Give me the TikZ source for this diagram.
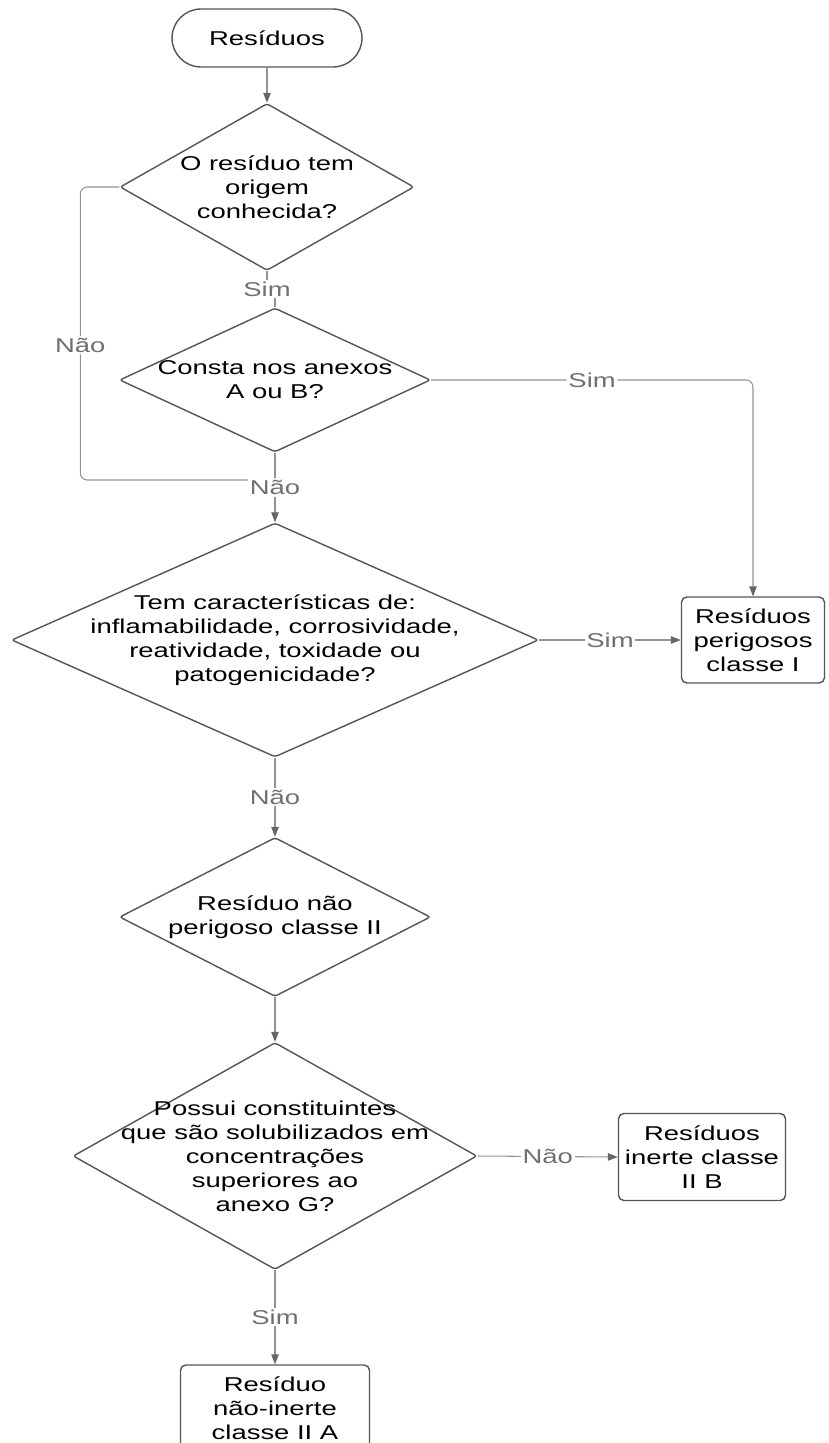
\documentclass[tikz,border=0pt]{standalone}
\usepackage{fontspec}
\setmainfont[FakeStretch=1.37]{Liberation Sans}
\usetikzlibrary{shapes.geometric,arrows.meta}
\definecolor{corcontorno}{HTML}{555555}
\definecolor{corlinha}{HTML}{939393}
\definecolor{corponta}{HTML}{666666}
\definecolor{corrotulo}{HTML}{707070}
\tikzset{
  texto/.style={font=\fontsize{11.4}{13.7}\selectfont, align=center},
  decisao/.style={diamond, draw=corcontorno, line width=0.8pt, fill=white, inner sep=0pt, rounded corners=1.5pt},
  caixa/.style={draw=corcontorno, line width=0.8pt, rounded corners=3pt, inner sep=1pt, texto},
  ligacao/.style={draw=corlinha, line width=0.6pt},
  seta/.style={ligacao, -{Triangle[length=0.2cm, width=0.15cm, color=corponta]}},
  rotulo/.style={texto, text=corrotulo, fill=white, inner sep=1pt},
}

\begin{document}
\begin{tikzpicture}[x=0.02cm, y=-0.02cm]
            \useasboundingbox (0,0) rectangle (828,1443);
            \node[caixa, rounded corners=0.58cm, minimum width=3.8cm, minimum height=1.16cm] (inicio) at (267,38) {Resíduos};
            \node[decisao, minimum width=5.88cm, minimum height=3.34cm, label={[texto]center:{O resíduo tem\\origem\\conhecida?}}] (origem) at (267,187) {};
            \node[decisao, minimum width=6.22cm, minimum height=2.88cm, label={[texto]center:{Consta nos anexos\\A ou B?}}] (anexos) at (275,380) {};
            \node[decisao, minimum width=10.54cm, minimum height=4.68cm, label={[texto]center:{Tem características de:\\inflamabilidade, corrosividade,\\reatividade, toxidade ou\\patogenicidade?}}] (caract) at (275,640) {};
            \node[decisao, minimum width=6.22cm, minimum height=3.18cm, label={[texto]center:{Resíduo não\\perigoso classe II}}] (naoperig) at (275,917) {};
            \node[decisao, minimum width=8.08cm, minimum height=4.54cm, label={[texto]center:{Possui constituintes\\que são solubilizados em\\concentrações\\superiores ao\\anexo G?}}] (solub) at (275,1156) {};
            \node[caixa, minimum width=2.86cm, minimum height=1.72cm] (classeI) at (753,640) {Resíduos\\perigosos\\classe I};
            \node[caixa, minimum width=3.34cm, minimum height=1.74cm] (classeIIB) at (702,1157) {Resíduos\\inerte classe\\II B};
            \node[caixa, minimum width=3.78cm, minimum height=1.74cm] (classeIIA) at (275,1408.5) {Resíduo\\não-inerte\\classe II A};
            \coordinate (juncao) at (275,480);
            \draw[seta] (inicio) -- (origem);
            \draw[ligacao] (origem.south) -- ++(0,18) node[rotulo] {Sim} -| (anexos.north);
            \draw[ligacao, rounded corners=4pt] (origem.west) -- ++(-39,0) |- node[rotulo, pos=0.27] {Não} (juncao);
            \draw[seta, rounded corners=4pt] (anexos.east) -| node[rotulo, pos=0.25] {Sim} (classeI.north);
            \draw[seta] (anexos) -- node[rotulo] {Não} (caract);
            \draw[seta] (caract.east) -- node[rotulo] {Sim} (classeI.west);
            \draw[seta] (caract) -- node[rotulo] {Não} (naoperig);
            \draw[seta] (naoperig) -- (solub);
            \draw[seta] (solub.east) -- node[rotulo] {Não} (classeIIB.west);
            \draw[seta] (solub) -- node[rotulo] {Sim} (classeIIA);
        \end{tikzpicture}
\end{document}
